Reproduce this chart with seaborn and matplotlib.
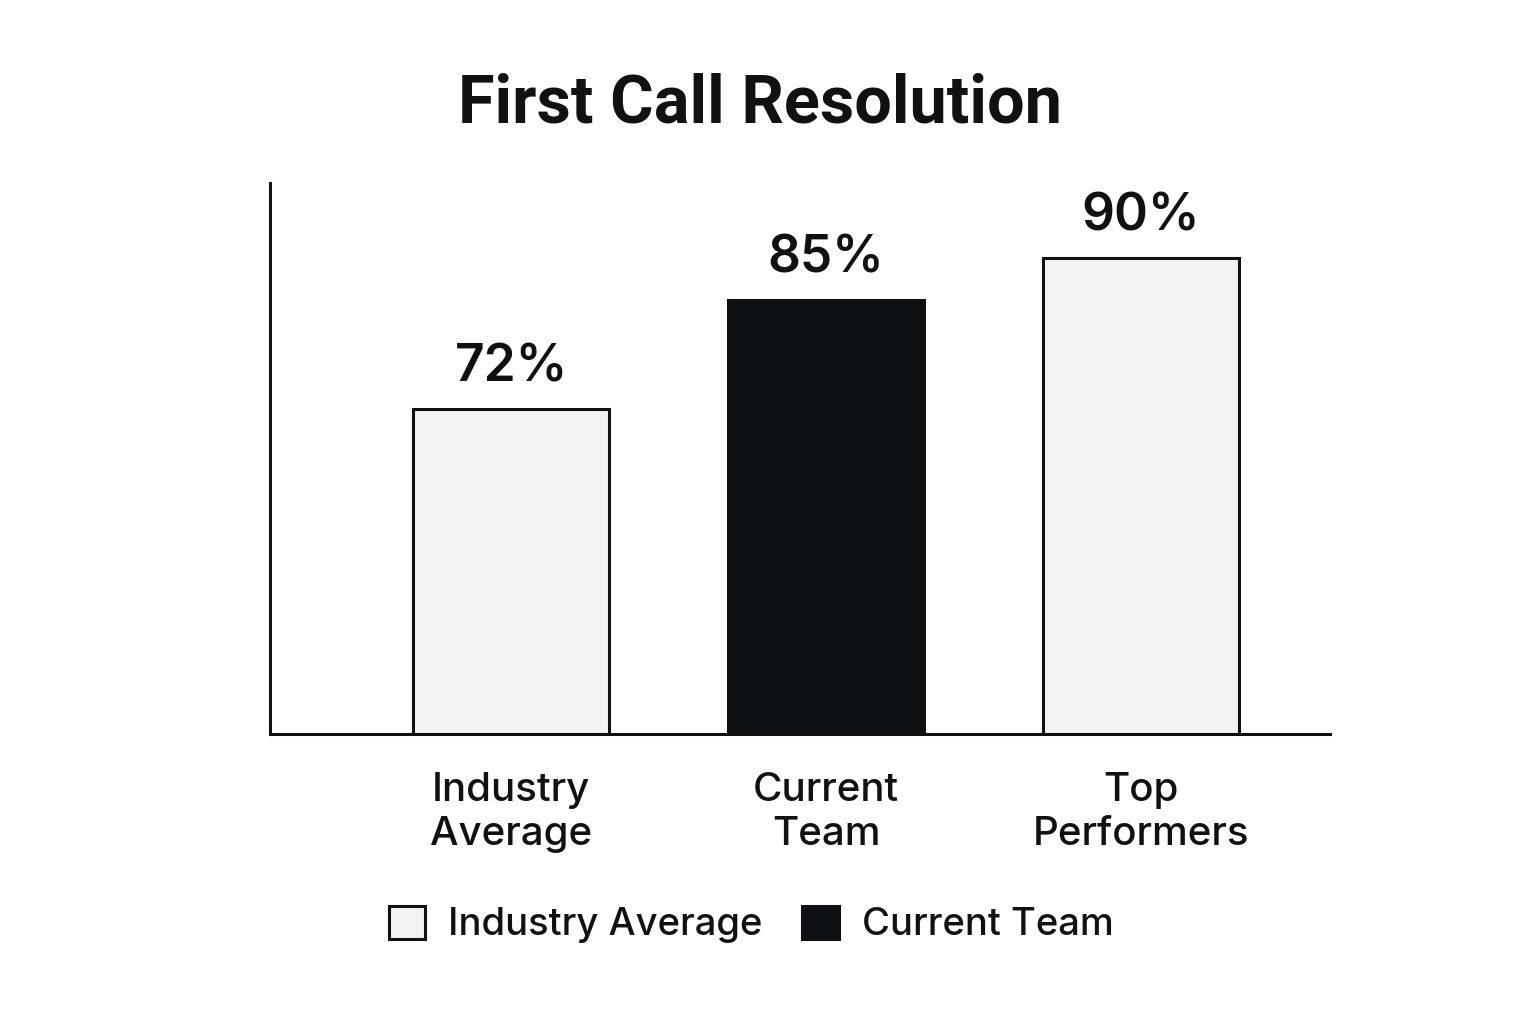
import matplotlib
matplotlib.use("Agg")
import matplotlib.pyplot as plt
import seaborn as sns
import pandas as pd
from matplotlib.patches import Patch

categories = ["Industry\nAverage", "Current\nTeam", "Top\nPerformers"]
values = [72, 85, 90]
value_labels = ["72%", "85%", "90%"]
legend_labels = ["Industry Average", "Current Team"]

light = "#f2f3f5"
dark = "#0d1114"
ink = "#111111"
colors = [light, dark, light]

sns.set_theme(style="white")
plt.rcParams['font.family'] = ['Inter', 'DejaVu Sans']

fig = plt.figure(figsize=(15.36, 10.24), dpi=100)
ax = fig.add_axes([0.1758, 0.2832, 0.6901, 0.5381])

df = pd.DataFrame({"cat": categories, "val": values})
sns.barplot(data=df, x="cat", y="val", hue="cat", palette=colors, width=0.62,
            edgecolor=ink, linewidth=2.2, legend=False, ax=ax)

ax.set_xlim(-0.765, 2.6)
ax.set_ylim(33.4, 98.9)
ax.set_yticks([])
ax.set_xlabel("")
ax.set_ylabel("")
for s in ["top", "right"]:
    ax.spines[s].set_visible(False)
for s in ["left", "bottom"]:
    ax.spines[s].set_color(ink)
    ax.spines[s].set_linewidth(2.2)
ax.tick_params(axis="x", length=0, pad=27, labelsize=29, labelcolor=ink)
for t in ax.get_xticklabels():
    t.set_linespacing(1.25)
    t.set_fontweight("medium")

for i, (v, lab) in enumerate(zip(values, value_labels)):
    ax.annotate(lab, (i, v), xytext=(0, 12), textcoords="offset points",
                ha="center", va="bottom", fontsize=37, fontweight="semibold", color=ink)

fig.suptitle("First Call Resolution", x=0.495, y=0.929, fontsize=48,
             fontweight="bold", color=ink, family=["Roboto", "DejaVu Sans"])

handles = [Patch(facecolor=light, edgecolor=ink, linewidth=2.2),
           Patch(facecolor=dark, edgecolor=dark, linewidth=2.2)]
leg = fig.legend(handles, legend_labels, loc="center", bbox_to_anchor=(0.489, 0.097),
                 ncol=2, frameon=False, fontsize=27.5, handlelength=0.95, handleheight=0.95,
                 handletextpad=0.6, columnspacing=1.05)
for t in leg.get_texts():
    t.set_color(ink)
    t.set_fontweight("medium")

fig.savefig("out.png", dpi=100, facecolor="white")
